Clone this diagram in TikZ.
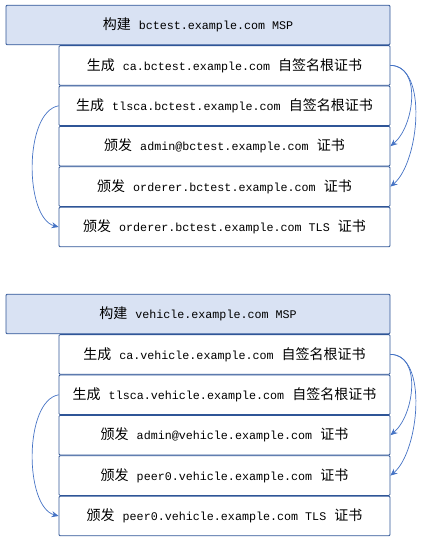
\documentclass[tikz,border=0pt]{standalone}
\usepackage{fontspec}
\setmainfont{Noto Sans CJK SC}
\setmonofont{Liberation Mono}
\usepackage{tikz}
\usetikzlibrary{arrows.meta,positioning}
\definecolor{boxline}{HTML}{2F5597}
\definecolor{boxfill}{HTML}{D9E2F3}
\definecolor{arrowblue}{HTML}{4472C4}
\newcommand{\Dom}[1]{{\fontsize{11.7}{14}\ttfamily #1}}
\newcommand{\Gap}{\hspace{8pt}}
\tikzset{
  hdr/.style={draw=boxline, fill=boxfill, line width=0.8pt, rounded corners=1pt,
    minimum width=384pt, minimum height=39.6pt, inner sep=0pt, font=\fontsize{14}{16}\selectfont},
  row/.style={draw=boxline, fill=white, line width=0.8pt, rounded corners=1pt,
    minimum width=331pt, minimum height=39.6pt, inner sep=0pt, font=\fontsize{14}{16}\selectfont},
  conn/.style={draw=arrowblue, line width=0.7pt, -{Stealth[length=7pt,width=6pt]}},
}
\begin{document}
\begin{tikzpicture}
    \useasboundingbox (0,0) rectangle (422pt,-544pt);

    \node[hdr] (hA) at (198pt,-25pt) {构建\Gap\Dom{bctest.example.com MSP}};
    \node[row, anchor=north east] (caA) at (hA.south east) {生成\Gap\Dom{ca.bctest.example.com}\Gap 自签名根证书};
    \node[row, below=0pt of caA] (tlsA) {生成\Gap\Dom{tlsca.bctest.example.com}\Gap 自签名根证书};
    \node[row, below=0pt of tlsA] (admA) {颁发\Gap\Dom{admin@bctest.example.com}\Gap 证书};
    \node[row, below=0pt of admA] (ordA) {颁发\Gap\Dom{orderer.bctest.example.com}\Gap 证书};
    \node[row, below=0pt of ordA] (ordtlsA) {颁发\Gap\Dom{orderer.bctest.example.com TLS}\Gap 证书};

    \node[hdr] (hB) at (198pt,-314pt) {构建\Gap\Dom{vehicle.example.com MSP}};
    \node[row, anchor=north east] (caB) at (hB.south east) {生成\Gap\Dom{ca.vehicle.example.com}\Gap 自签名根证书};
    \node[row, below=0pt of caB] (tlsB) {生成\Gap\Dom{tlsca.vehicle.example.com}\Gap 自签名根证书};
    \node[row, below=0pt of tlsB] (admB) {颁发\Gap\Dom{admin@vehicle.example.com}\Gap 证书};
    \node[row, below=0pt of admB] (peerB) {颁发\Gap\Dom{peer0.vehicle.example.com}\Gap 证书};
    \node[row, below=0pt of peerB] (peertlsB) {颁发\Gap\Dom{peer0.vehicle.example.com TLS}\Gap 证书};

    \draw[conn] (caA.east) to[out=0,in=40,looseness=1.0] (admA.east);
    \draw[conn] (caA.east) to[out=0,in=40,looseness=0.8] (ordA.east);
    \draw[conn] (tlsA.west) to[out=190,in=165,looseness=0.75] (ordtlsA.west);

    \draw[conn] (caB.east) to[out=0,in=40,looseness=1.0] (admB.east);
    \draw[conn] (caB.east) to[out=0,in=40,looseness=0.8] (peerB.east);
    \draw[conn] (tlsB.west) to[out=190,in=165,looseness=0.75] (peertlsB.west);

\end{tikzpicture}
\end{document}
